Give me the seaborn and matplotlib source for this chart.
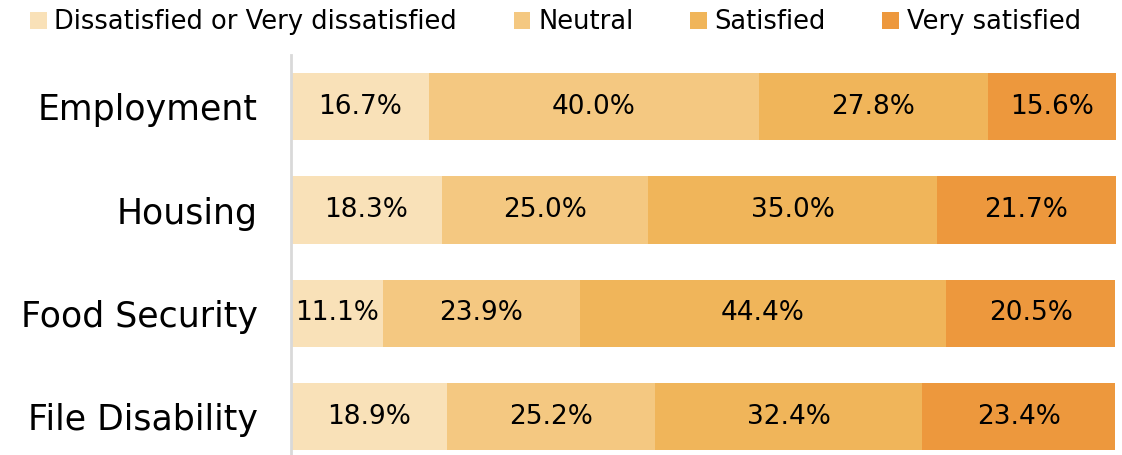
import pandas as pd
import numpy as np
import seaborn as sns
import matplotlib.pyplot as plt
from matplotlib.patches import Patch

categories = ["Employment", "Housing", "Food Security", "File Disability"]
levels = ["Dissatisfied or Very dissatisfied", "Neutral", "Satisfied", "Very satisfied"]
dissatisfied = [16.7, 18.3, 11.1, 18.9]
neutral = [40.0, 25.0, 23.9, 25.2]
satisfied = [27.8, 35.0, 44.4, 32.4]
very_satisfied = [15.6, 21.7, 20.5, 23.4]
colors = ["#F9E1B8", "#F4C881", "#F0B55A", "#ED983D"]

sns.set_style("white")
plt.rcParams['font.family'] = ['DejaVu Sans']

df = pd.DataFrame({"Category": categories,
                   levels[0]: dissatisfied,
                   levels[1]: neutral,
                   levels[2]: satisfied,
                   levels[3]: very_satisfied})
cum = df[levels].cumsum(axis=1)

fig = plt.figure(figsize=(11.22, 4.55), dpi=100)
ax = fig.add_axes([291 / 1122, 0, 825 / 1122, 400 / 455])

# draw cumulative bars from the full stack down so each layer shows
for lev, col in reversed(list(zip(levels, colors))):
    sns.barplot(x=cum[lev], y=df["Category"], color=col, width=0.65,
                orient="h", ax=ax, saturation=1, linewidth=0)

# segment labels
for i, cat in enumerate(categories):
    start = 0
    for lev in levels:
        v = df.loc[i, lev]
        ax.text(start + v / 2, i, f"{v:.1f}%", ha="center", va="center",
                fontsize=19, color="black")
        start += v

ax.set_xlim(0, 100)
ax.set_ylim(3.37, -0.5)
ax.set_xlabel("")
ax.set_ylabel("")
ax.set_xticks([])
ax.tick_params(axis="y", length=0, pad=24, labelsize=25, labelcolor="black")
for s in ["top", "right", "bottom"]:
    ax.spines[s].set_visible(False)
ax.spines["left"].set_color("#D9D9D9")
ax.spines["left"].set_linewidth(2)

handles = [Patch(facecolor=c, edgecolor="none") for c in colors]
leg = fig.legend(handles, levels, loc="upper center", bbox_to_anchor=(0.495, 1.03),
                 ncol=4, frameon=False, fontsize=18.5, handlelength=0.65,
                 handleheight=0.65, handletextpad=0.3, columnspacing=2.2)
for t in leg.get_texts():
    t.set_color("black")

fig.savefig("out.png", dpi=100)
